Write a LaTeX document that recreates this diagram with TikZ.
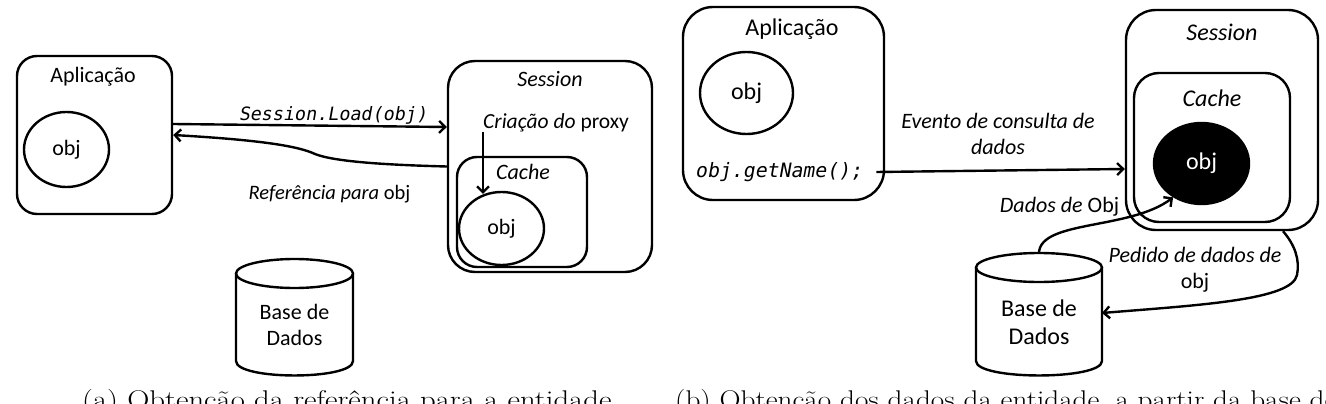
\documentclass[tikz,border=0pt]{standalone}
\usepackage{fontspec}
\setsansfont{Carlito}
\newfontfamily\codefont[FakeSlant=0.18]{DejaVu Sans Mono}
\usetikzlibrary{shapes.geometric,arrows.meta}
\begin{document}
\begin{tikzpicture}[x=1pt,y=-1pt,
  ln/.style={line width=2.4pt},
  box/.style={ln, draw, inner sep=0pt},
  oval/.style={ln, draw, ellipse, inner sep=0pt},
  arr/.style={ln, -{Straight Barb[length=6pt,width=12pt]}},
  fa/.style={font=\sffamily\fontsize{22}{26}\selectfont, inner sep=0pt},
  fal/.style={font=\sffamily\fontsize{20.5}{25}\selectfont, inner sep=0pt},
  fb/.style={font=\sffamily\fontsize{24}{28}\selectfont, inner sep=0pt},
  fbl/.style={font=\sffamily\fontsize{22}{26}\selectfont, inner sep=0pt},
  ca/.style={font=\codefont\fontsize{18.4}{22}\selectfont, inner sep=0pt},
  cb/.style={font=\codefont\fontsize{19.8}{24}\selectfont, inner sep=0pt},
  captext/.style={font=\rmfamily\fontsize{25.6}{30}\selectfont, inner sep=0pt, anchor=base west, transform shape}
]
\useasboundingbox (0,0) rectangle (1326,404);

% ---------- (a) ----------
\node[box, rounded corners=20pt, minimum width=155pt, minimum height=158pt] (appA) at (94.5,135) {};
\node[fa] (appAt) at (93,77) {Aplicação};
\node[oval, fa, minimum width=85pt, minimum height=75pt] (objA) at (66.5,149.5) {obj};

\node[box, rounded corners=27pt, minimum width=204pt, minimum height=211pt] (sesA) at (550,166.5) {};
\node[fa] (sesAt) at (550,79) {\itshape Session};
\node[fal, font=\sffamily\fontsize{21.5}{25}\selectfont, anchor=west] (crA) at (483,123) {\itshape Criação do \upshape proxy};
\node[box, rounded corners=20pt, minimum width=130pt, minimum height=110pt] (cacheA) at (522,212) {};
\node[fa] (cacheAt) at (523,172) {\itshape Cache};
\node[oval, fa, minimum width=85pt, minimum height=73pt] (objA2) at (501.5,228.5) {obj};

\draw[arr] (crA.south west) -- (crA.south west |- objA2.117);

\node[ca] (ldA) at (333,115) {Session.Load(obj)};
\draw[arr] ([yshift=11pt]appA.east) -- ([yshift=39.5pt]sesA.west);
\draw[arr] (sesA.west) .. controls (390,165) and (335,162) .. (315,154)
  .. controls (298,146) and (260,140) .. (appA.east);
\node[fal] (refA) at (329.5,194) {\itshape Referência para \upshape obj};

\draw[ln] (294.5,273.5) ellipse [x radius=58.5, y radius=14.5];
\draw[ln] (236,273.5) -- (236,361) .. controls (236,380.3) and (353,380.3) .. (353,361) -- (353,273.5);
\node[fa, align=center] (dbA) at (294.5,325) {Base de\\Dados};

% ---------- (b) ----------
\node[box, rounded corners=30pt, minimum width=201pt, minimum height=193pt] (appB) at (783.5,103.5) {};
\node[fb] (appBt) at (792,29) {Aplicação};
\node[oval, fb, minimum width=93pt, minimum height=82pt] (objB) at (746.5,93) {obj};
\node[cb, anchor=west] (codeB) at (695,172) {obj.getName();};

\node[box, rounded corners=30pt, minimum width=192pt, minimum height=220pt] (sesB) at (1222,120) {};
\node[fb] (sesBt) at (1222,32) {\itshape Session};
\node[box, rounded corners=25pt, minimum width=156pt, minimum height=149pt] (cacheB) at (1212,147.5) {};
\node[fb] (cacheBt) at (1212,98) {\itshape Cache};
\node[oval, fb, fill=black, text=white, minimum width=95pt, minimum height=81pt] (objB2) at (1201.5,163.5) {obj};

\draw[arr] ([xshift=14pt]codeB.east) -- ([yshift=-49pt]sesB.west);
\node[fbl, font=\sffamily\itshape\fontsize{22}{26}\selectfont, align=center] (evB) at (998,134) {Evento de consulta de\\dados};

\draw[ln] (1039,267.5) ellipse [x radius=63, y radius=14.5];
\draw[ln] (976,267.5) -- (976,361) .. controls (976,380.3) and (1102,380.3) .. (1102,361) -- (1102,267.5);
\node[fb, align=center] (dbB) at (1039,322) {Base de\\Dados};
\coordinate (dbBtop) at (1039,253);
\coordinate (dbBr) at (1102,313);

\node[fbl] (dadB) at (1059.5,207) {\textit{Dados de} Obj};
\draw[arr] (dbBtop) .. controls (1040,220) and (1130,230) .. (objB2.230);

\draw[arr] ([xshift=61pt]sesB.south) .. controls (1295,245) and (1300,260) .. (1297,275)
  .. controls (1292,300) and (1200,305) .. (dbBr);
\node[fbl, align=center] (pedB) at (1195,270) {\textit{Pedido de dados de}\\obj};

% ---------- captions ----------
\node[captext, xscale=1.2] (capA) at (82,408) {(a) Obtenção da referência para a entidade};
\node[captext, xscale=1.14] (capB) at (675,408) {(b) Obtenção dos dados da entidade, a partir da base de};
\end{tikzpicture}
\end{document}
